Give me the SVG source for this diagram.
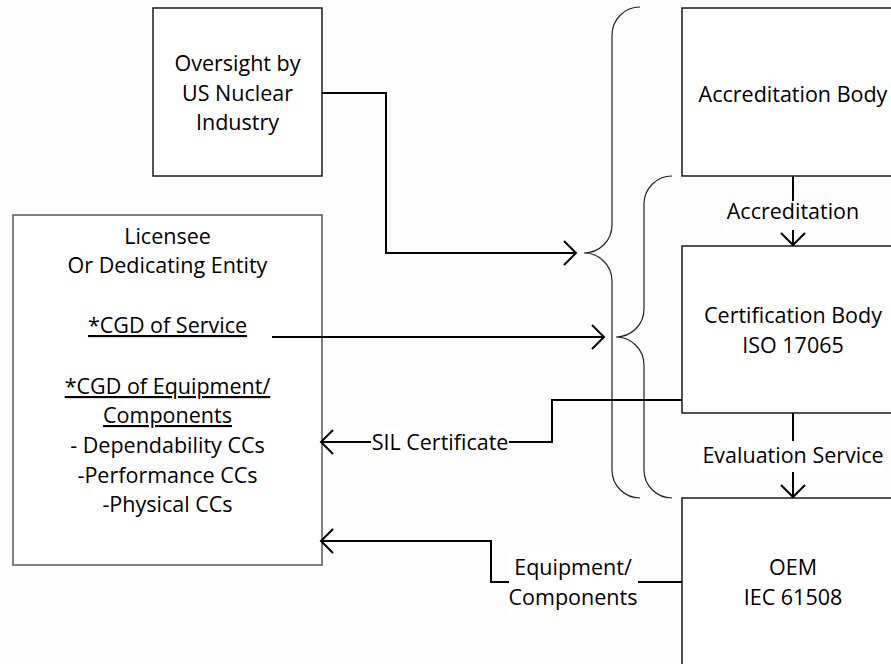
<svg xmlns="http://www.w3.org/2000/svg" width="891" height="664" viewBox="0 0 891 664">
<defs>
<style>
.box{fill:#ffffff;stroke:#1a1a1a;stroke-width:1.5}
.t{font-family:"Open Sans","Lato","Liberation Sans",sans-serif;font-size:21.5px;fill:#000;text-anchor:middle}
.u{text-decoration:underline}
.ln{fill:none;stroke:#000;stroke-width:2}
.ah{fill:none;stroke:#000;stroke-width:2}
.br{fill:none;stroke:#222;stroke-width:1.2}
.bg{fill:#ffffff;stroke:none}
</style>
</defs>
<rect x="0" y="0" width="891" height="664" fill="#fdfdfd"/>
<g id="oversight">
<rect class="box" x="153" y="8" width="169" height="168"/>
<text class="t" x="237.5" y="71">Oversight by</text>
<text class="t" x="237.5" y="101">US Nuclear</text>
<text class="t" x="237.5" y="130">Industry</text>
</g>
<g id="licensee">
<rect class="box" x="13" y="215" width="309" height="350" style="stroke:#555"/>
<text class="t" x="167.5" y="244">Licensee</text>
<text class="t" x="167.5" y="273">Or Dedicating Entity</text>
<text class="t u" x="167.5" y="333">*CGD of Service</text>
<text class="t u" x="167.5" y="394">*CGD of Equipment/</text>
<text class="t u" x="167.5" y="423">Components</text>
<text class="t" x="167.5" y="453">- Dependability CCs</text>
<text class="t" x="167.5" y="483">-Performance CCs</text>
<text class="t" x="167.5" y="512">-Physical CCs</text>
</g>
<g id="accreditation-body">
<rect class="box" x="682" y="8" width="222" height="168"/>
<text class="t" x="793" y="102">Accreditation Body</text>
</g>
<g id="certification-body">
<rect class="box" x="682" y="246" width="222" height="167"/>
<text class="t" x="793" y="323">Certification Body</text>
<text class="t" x="793" y="353">ISO 17065</text>
</g>
<g id="oem">
<rect class="box" x="682" y="498" width="222" height="180"/>
<text class="t" x="793" y="575">OEM</text>
<text class="t" x="793" y="605">IEC 61508</text>
</g>
<g id="braces">
<path class="br" d="M640,7 A28,28 0 0 0 612,35 L612,225 A28,28 0 0 1 584,253 A28,28 0 0 1 612,281 L612,470 A28,28 0 0 0 640,498"/>
<path class="br" d="M672,176 A28,28 0 0 0 644,204 L644,309 A28,28 0 0 1 616,337 A28,28 0 0 1 644,365 L644,470 A28,28 0 0 0 672,498"/>
</g>
<g id="connectors">
<path class="ln" d="M322,93 H386 V253 H575"/>
<path class="ah" d="M564,241 L576,253 L564,265"/>
<path class="ln" d="M272,337 H603"/>
<path class="ah" d="M592,325 L604,337 L592,349"/>
<path class="ln" d="M682,400 H552 V442 H322"/>
<path class="ah" d="M333,430 L321,442 L333,454"/>
<rect class="bg" x="371" y="429" width="138" height="28"/>
<text class="t" x="440" y="450">SIL Certificate</text>
<path class="ln" d="M682,582 H491 V541 H322"/>
<path class="ah" d="M333,529 L321,541 L333,553"/>
<rect class="bg" x="509" y="552" width="129" height="62"/>
<text class="t" x="573" y="575">Equipment/</text>
<text class="t" x="573" y="605">Components</text>
<path class="ln" d="M793,176 V245"/>
<path class="ah" d="M781,233 L793,245 L805,233"/>
<rect class="bg" x="723" y="201" width="140" height="29"/>
<text class="t" x="793" y="219">Accreditation</text>
<path class="ln" d="M793,413 V497"/>
<path class="ah" d="M781,485 L793,497 L805,485"/>
<rect class="bg" x="701" y="441" width="185" height="31"/>
<text class="t" x="793" y="463">Evaluation Service</text>
</g>
</svg>
